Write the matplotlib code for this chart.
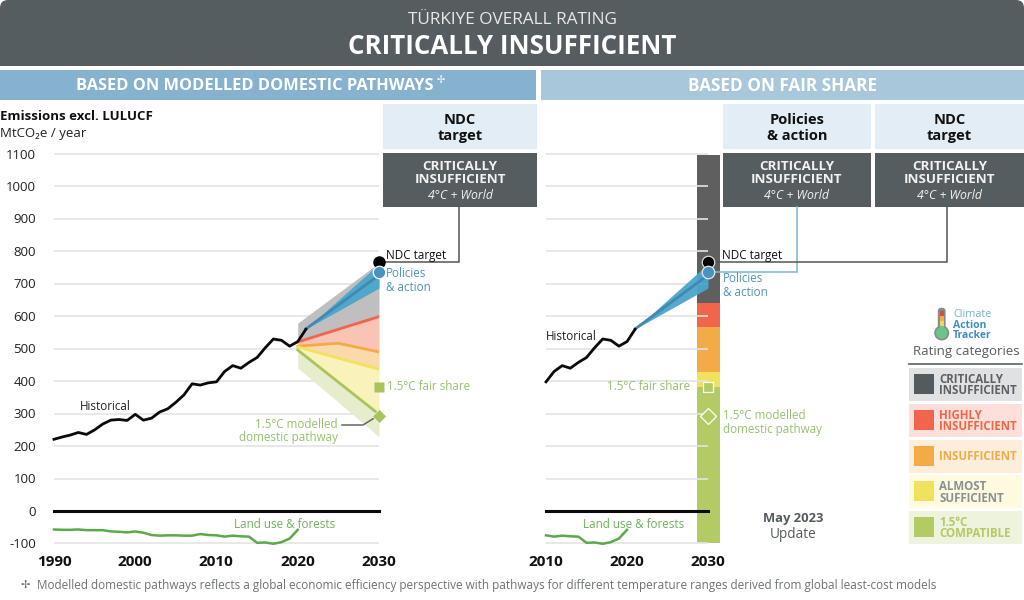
import matplotlib
matplotlib.use("Agg")
import matplotlib.pyplot as plt
from matplotlib.patches import Rectangle, FancyBboxPatch, Circle

plt.rcParams['font.family'] = ['Open Sans', 'DejaVu Sans']

years_hist = list(range(1990, 2022))
hist = [221, 228, 234, 242, 236, 250, 268, 280, 282, 279, 298, 280, 286, 305, 315, 335,
        358, 392, 388, 395, 398, 430, 448, 440, 458, 473, 503, 530, 526, 508, 522, 560]
years_land = list(range(1990, 2021))
land = [-57, -58, -58, -57, -59, -59, -59, -63, -64, -66, -63, -67, -74, -76, -75, -75,
        -76, -76, -71, -74, -75, -79, -76, -78, -79, -98, -97, -101, -96, -85, -58]
yrs_band = [2020, 2025, 2030]
grey_top = [579, 672, 765]
red_line = [521, 560, 599]
orange_line = [508, 517, 490]
yellow_line = [506, 471, 437]
green_line = [496, 397, 298]
green_low = [441, 335, 229]
yrs_blue = [2021, 2030]
blue_top = [561, 762]
blue_mid = [561, 727]
blue_low = [561, 687]
ndc_value = 766
policy_value = 735
fair_value = 382
pathway_value = 293
bar_edges = [1097, 641, 567, 428, 382, -100]
bar_colors = ['#5f5f5f', '#f1654a', '#f2ab47', '#f1e25d', '#b2cb65']
yticks = list(range(-100, 1200, 100))
legend_names = ['CRITICALLY\nINSUFFICIENT', 'HIGHLY\nINSUFFICIENT', 'INSUFFICIENT', 'ALMOST\nSUFFICIENT', '1.5°C\nCOMPATIBLE']
legend_swatch = ['#545b5f', '#f1654a', '#f2ab47', '#f1e25d', '#b2cb65']
legend_bg = ['#e0e1e3', '#fde0da', '#fdeedb', '#fdfadf', '#edf3dd']
legend_text = ['#5b6265', '#f1654a', '#f2ab47', '#8a9094', '#b2cb65']

W, H = 1024, 600
fig = plt.figure(figsize=(W / 100, H / 100), dpi=100, facecolor='white')

def axpx(l, t, r, b, z):
    return fig.add_axes([l / W, 1 - b / H, (r - l) / W, (b - t) / H], zorder=z)

bg = axpx(0, 0, W, H, 0)
bg.set_xlim(0, W); bg.set_ylim(H, 0); bg.axis('off')
top = axpx(0, 0, W, H, 5)
top.set_xlim(0, W); top.set_ylim(H, 0); top.axis('off'); top.patch.set_alpha(0)

def T(x, y, s, size, color='#222222', weight='normal', ha='center', style='normal', ls=None, ax=top):
    ax.text(x, y, s, fontsize=size, color=color, fontweight=weight, ha=ha, va='center',
            style=style, linespacing=ls if ls else 1.1)

def R(x0, y0, x1, y1, c):
    bg.add_patch(Rectangle((x0, y0), x1 - x0, y1 - y0, fc=c, ec='none'))

# header
bg.add_patch(FancyBboxPatch((0, 0), W, 66, boxstyle='round,pad=0,rounding_size=8', fc='#565d60', ec='none'))
R(0, 30, W, 66, '#565d60')
T(512, 19.5, 'TÜRKIYE OVERALL RATING', 12.4, '#e8e8e8')
T(512, 46.5, 'CRITICALLY INSUFFICIENT', 18.6, 'white', 'bold')
R(0, 70, 536, 100, '#86b1cf')
R(541, 70, W, 100, '#a8c7db')
T(254.5, 86, 'BASED ON MODELLED DOMESTIC PATHWAYS', 11.8, 'white', 'bold')
T(441, 81, '✢', 7, 'white', ha='center')
T(782.5, 86, 'BASED ON FAIR SHARE', 12.4, 'white', 'bold')

# rating boxes
for x0, x1, name in [(383, 537, 'NDC\ntarget'), (723, 871, 'Policies\n& action'), (875, W, 'NDC\ntarget')]:
    R(x0, 104, x1, 149, '#e3edf5')
    R(x0, 153, x1, 207, '#565d60')
    xc = (x0 + x1) / 2
    T(xc, 128, name, 10.5, '#111111', 'bold', ls=1.25)
    T(xc, 173, 'CRITICALLY\nINSUFFICIENT', 9.6, '#f2f2f2', 'bold', ls=1.03)
    T(xc, 195.5, '4°C + World', 8.8, '#f2f2f2', style='italic')

T(0, 117, 'Emissions excl. LULUCF', 9.5, '#111111', 'bold', ha='left')
T(0, 133.5, 'MtCO₂e / year', 9.5, '#222222', ha='left')

y2px = lambda v: 511 - v * 0.3245

axL = axpx(54, y2px(1100), 379, y2px(-100), 2)
axR = axpx(546, y2px(1100), 708, y2px(-100), 2)
for ax in (axL, axR):
    ax.patch.set_alpha(0)
    ax.set_ylim(-100, 1100)
    for s in ax.spines.values():
        s.set_visible(False)
    ax.tick_params(length=0)
    ax.set_yticks([])
    ax.set_xticks([])
axL.set_xlim(1990, 2030)
axR.set_xlim(2010, 2030)

for ax, x0, x1 in ((axL, 1990, 2030), (axR, 2010, 2030)):
    for v in yticks:
        if v != 0:
            ax.plot([x0, x1], [v, v], color='#e4e4e4', lw=1.2, zorder=3 if ax is axR else 1, clip_on=False, solid_capstyle='butt')
    ax.plot([x0, x1], [0, 0], color='#0a0a0a', lw=2.2, zorder=4, clip_on=False)
    ax.set_xbound(x0, x1)
    mask = [(yr, val) for yr, val in zip(years_land, land) if yr >= x0]
    ax.plot([m[0] for m in mask], [m[1] for m in mask], color='#5aaa4a', lw=1.8, zorder=4, clip_on=False, solid_joinstyle='round')
for v in yticks:
    T(36, y2px(v) + 1, str(v), 9.5, '#222222', ha='right')
for y, x in zip([1990, 2000, 2010, 2020, 2030], [54, 135, 216, 298, 379]):
    T(x, 561.5, str(y), 11, '#111111', 'bold')
for y, x in zip([2010, 2020, 2030], [546, 627, 708]):
    T(x, 561.5, str(y), 11, '#111111', 'bold')

for i, c in enumerate(bar_colors):
    axR.bar(2030.05, bar_edges[i] - bar_edges[i + 1], bottom=bar_edges[i + 1], width=2.8, color=c, zorder=2, clip_on=False)

axL.fill_between(yrs_band, red_line, grey_top, color='#bfbfbf', lw=0, zorder=2)
axL.fill_between(yrs_band, orange_line, red_line, color='#f9c3b5', lw=0, zorder=2)
axL.fill_between(yrs_band, yellow_line, orange_line, color='#fad9aa', lw=0, zorder=2)
axL.fill_between(yrs_band, green_line, yellow_line, color='#f9f2bb', lw=0, zorder=2)
axL.fill_between(yrs_band, green_low, green_line, color='#e5edcc', lw=0, zorder=2)
axL.plot(yrs_band, red_line, color='#f1654a', lw=2, zorder=3)
axL.plot(yrs_band, orange_line, color='#f2ab47', lw=2, zorder=3)
axL.plot(yrs_band, yellow_line, color='#f1e25d', lw=2, zorder=3)
axL.plot(yrs_band, green_line, color='#a9c45f', lw=2, zorder=3)

for ax, x0 in ((axL, 1990), (axR, 2010)):
    ax.fill_between(yrs_blue, blue_low, blue_top, color='#4ba6cb', alpha=0.95, lw=0, zorder=4)
    ax.plot(yrs_blue, blue_mid, color='#4288b3', lw=2, zorder=5, clip_on=False)
    hh = [(yr, val) for yr, val in zip(years_hist, hist) if yr >= x0]
    ax.plot([m[0] for m in hh], [m[1] for m in hh], color='#0a0a0a', lw=2, zorder=6, clip_on=False)

def conn(ax, xs, ys, c, lw=1.1):
    ax.plot(xs, ys, color=c, lw=lw, zorder=5.5, transform=top.transData, clip_on=False, solid_joinstyle='miter')

ny, py = y2px(ndc_value), y2px(policy_value)
conn(axL, [379, 459, 459], [ny, ny, 207], '#555555')
conn(axR, [708, 796.5, 796.5], [py, py, 207], '#7fb5d5')
conn(axR, [708, 947, 947], [ny, ny, 207], '#555555')
conn(axL, [342, 363, 376], [425, 425, y2px(pathway_value) + 1], '#666666')

axL.plot([2030], [ndc_value], 'o', ms=8, mfc='black', mec='black', zorder=8, clip_on=False)
axL.plot([2030], [policy_value], 'o', ms=9, mfc='#4a93bf', mec='white', mew=0.9, zorder=8, clip_on=False)
axL.plot([2030], [fair_value], 's', ms=6.5, mfc='#a9c45f', mec='none', zorder=8, clip_on=False)
axL.plot([2030], [pathway_value], 'D', ms=7.5, mfc='#a9c45f', mec='white', mew=0.4, zorder=8, clip_on=False)
axR.plot([2030], [ndc_value], 'o', ms=9, mfc='black', mec='#dddddd', mew=0.9, zorder=8, clip_on=False)
axR.plot([2030], [policy_value], 'o', ms=9, mfc='#4a93bf', mec='#e8e8e8', mew=0.9, zorder=8, clip_on=False)
axR.plot([2030], [fair_value], 's', ms=7, mfc='#b2cb65', mec='white', mew=0.9, zorder=8, clip_on=False)
axR.plot([2030], [pathway_value], 'D', ms=8, mfc='#b2cb65', mec='white', mew=0.9, zorder=8, clip_on=False)

GREEN = '#97c26f'
BLUE = '#4f94bd'
A = 8.4
T(386, 256, 'NDC target', A, '#111111', ha='left')
T(386, 280.5, 'Policies\n& action', A, BLUE, ha='left')
T(387, 386.5, '1.5°C fair share', A, GREEN, ha='left')
T(338, 431, '1.5°C modelled\ndomestic pathway', A, GREEN, ha='right')
T(105, 407, 'Historical', A, '#222222')
T(285, 525, 'Land use & forests', A, '#6bb35b')
T(722, 256, 'NDC target', A, '#111111', ha='left')
T(723, 285.5, 'Policies\n& action', A, BLUE, ha='left')
T(690, 387, '1.5°C fair share', A, GREEN, ha='right')
T(723, 422.5, '1.5°C modelled\ndomestic pathway', A, GREEN, ha='left')
T(571, 336, 'Historical', A, '#222222')
T(634, 525, 'Land use & forests', A, '#6bb35b')
T(793, 518.5, 'May 2023', 9.4, '#555c60', 'bold')
T(793, 534, 'Update', 9.8, '#555c60')

bg.add_patch(FancyBboxPatch((939, 309), 5.4, 24, boxstyle='round,pad=1.2,rounding_size=3', fc='#8b8b8b', ec='none'))
bg.add_patch(Circle((941.7, 333), 7.5, fc='#8b8b8b', ec='none'))
bg.add_patch(Circle((941.7, 333), 5.8, fc='#6bc489', ec='none'))
for y0, y1, c in [(311, 316, '#c8553f'), (316, 321, '#f2ab47'), (321, 326, '#e8d95a'), (326, 331, '#6bc489')]:
    R(939.9, y0, 943.5, y1, c)
T(953, 314.5, 'Climate', 7.8, '#79b1d0', ha='left')
T(953, 325, 'Action', 7.5, '#3e8fc0', 'bold', ha='left')
T(953, 335.5, 'Tracker', 7.5, '#3e8fc0', 'bold', ha='left')
T(966, 352, 'Rating categories', 9.5, '#555c60')
top.plot([909, 1022], [363.5, 363.5], color='#5b6265', lw=1.2)

for i, (name, sw, b, tc) in enumerate(zip(legend_names, legend_swatch, legend_bg, legend_text)):
    y0 = 368 + i * 35.8
    R(909, y0, 1022, y0 + 33, b)
    R(914, y0 + 6, 934, y0 + 26, sw)
    T(939, y0 + 17, name, 8.3, tc, 'bold', ha='left', ls=0.82)

T(25, 585, '✢', 8, '#666666')
T(37, 586, 'Modelled domestic pathways reflects a global economic efficiency perspective with pathways for different temperature ranges derived from global least-cost models',
  8.45, '#6d7376', ha='left')

fig.savefig('out.png', dpi=100)
